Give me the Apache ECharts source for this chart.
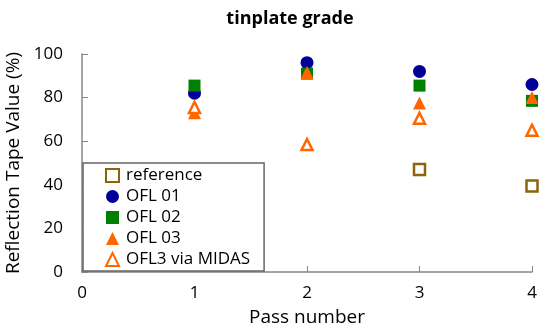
<!DOCTYPE html>
<html><head><meta charset="utf-8">
<script src="https://cdn.jsdelivr.net/npm/echarts@6/dist/echarts.min.js"></script>
<style>html,body{margin:0;padding:0;background:#fff}#c{width:550px;height:327px}</style>
</head><body><div id="c"></div>
<script>
const passes = [1, 2, 3, 4];
const reference = [null, null, 47, 39.5];
const ofl01 = [82, 96, 92, 86];
const ofl02 = [85.5, 91, 85.5, 78.5];
const ofl03 = [73, 91.5, 77.5, 80];
const ofl3Midas = [75.5, 58.5, 70.5, 65];
const xTicks = [0, 1, 2, 3, 4];
const yTicks = [0, 20, 40, 60, 80, 100];

const font = "'Open Sans', 'Noto Sans', sans-serif";
function pts(vals){ return passes.map((p,i)=> vals[i]==null ? null : [p, vals[i]]).filter(Boolean); }
const chart = echarts.init(document.getElementById('c'));
chart.setOption({
  animation: false,
  title: { text: 'tinplate grade', left: 285, textAlign: 'center', top: 5,
    textStyle: { fontFamily: font, fontSize: 18, fontWeight: 'bold', color: '#000' } },
  grid: { left: 82, right: 18, top: 54, bottom: 55, containLabel: false, outerBoundsMode: 'none' },
  legend: {
    orient: 'vertical', left: 83, top: 163,
    padding: [2, 14, 1, 22], itemGap: 0, itemWidth: 13, itemHeight: 13,
    borderColor: '#666', borderWidth: 1.5, backgroundColor: '#fff',
    textStyle: { fontFamily: font, fontSize: 17, color: '#000', lineHeight: 21, padding: [0, 0, 0, 2] },
    data: ['reference', 'OFL 01', 'OFL 02', 'OFL 03', 'OFL3 via MIDAS']
  },
  xAxis: { type: 'value', min: xTicks[0], max: xTicks[xTicks.length-1], interval: 1,
    name: 'Pass number', nameLocation: 'middle', nameGap: 36,
    nameTextStyle: { fontFamily: font, fontSize: 19, color: '#000' },
    axisLine: { lineStyle: { color: '#868686', width: 1.5 } },
    axisTick: { inside: true, length: 6, lineStyle: { color: '#868686' } },
    axisLabel: { fontFamily: font, fontSize: 17, color: '#000', margin: 13 },
    splitLine: { show: false } },
  yAxis: { type: 'value', min: yTicks[0], max: yTicks[yTicks.length-1], interval: 20,
    name: 'Reflection Tape Value (%)', nameLocation: 'middle', nameGap: 54,
    nameTextStyle: { fontFamily: font, fontSize: 19, color: '#000' },
    axisLine: { show: true, lineStyle: { color: '#868686', width: 1.5 } },
    axisTick: { show: true, inside: true, length: 6, lineStyle: { color: '#868686' } },
    axisLabel: { fontFamily: font, fontSize: 17, color: '#000', margin: 19 },
    splitLine: { show: false } },
  series: [
    { name: 'reference', type: 'scatter', symbol: 'rect', symbolSize: 11, data: pts(reference),
      itemStyle: { color: '#fff', borderColor: '#8B6508', borderWidth: 2.5, opacity: 1 } },
    { name: 'OFL 01', type: 'scatter', symbol: 'circle', symbolSize: 13, data: pts(ofl01),
      itemStyle: { color: '#000099', opacity: 1 } },
    { name: 'OFL 02', type: 'scatter', symbol: 'rect', symbolSize: 12, data: pts(ofl02),
      itemStyle: { color: '#008000', opacity: 1 } },
    { name: 'OFL 03', type: 'scatter', symbol: 'triangle', symbolSize: 13, data: pts(ofl03),
      itemStyle: { color: '#FF6600', opacity: 1 } },
    { name: 'OFL3 via MIDAS', type: 'scatter', symbol: 'triangle', symbolSize: 11, data: pts(ofl3Midas),
      itemStyle: { color: '#fff', borderColor: '#FF6600', borderWidth: 2.5, opacity: 1 } }
  ]
});
</script></body></html>
